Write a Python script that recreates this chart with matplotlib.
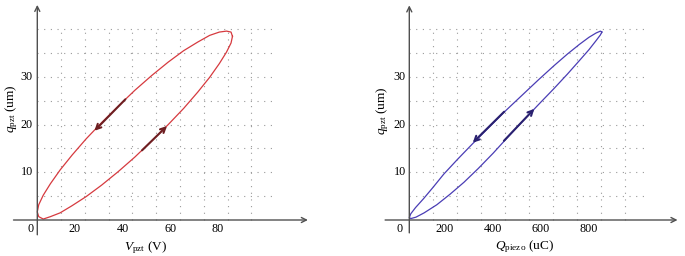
import numpy as np
import matplotlib
matplotlib.use("Agg")
import matplotlib.pyplot as plt
from matplotlib.transforms import offset_copy

plt.rcParams['font.family'] = ['Liberation Serif', 'DejaVu Serif']
plt.rcParams['mathtext.fontset'] = 'custom'
plt.rcParams['mathtext.rm'] = 'Liberation Serif'
plt.rcParams['mathtext.it'] = 'Liberation Serif:italic'

# ---------------- data ----------------
# Left: displacement q_pzt (um) versus voltage V_pzt (V)
left_v = [82.0, 81.4, 79.5, 76.5, 72.4, 67.4, 61.5, 55.0, 48.1, 41.0, 33.9, 27.0,
          20.5, 14.6, 9.6, 5.5, 2.5, 0.6, 0.0, 0.6, 2.5, 5.5, 9.6, 14.6,
          20.5, 27.0, 33.9, 41.0, 48.1, 55.0, 61.5, 67.4, 72.4, 76.5, 79.5, 81.4]
left_q = [38.5, 39.4, 39.6, 39.4, 38.7, 37.3, 35.5, 33.1, 30.3, 27.2, 23.8, 20.4,
          17.0, 13.6, 10.5, 7.6, 5.2, 3.2, 1.7, 0.7, 0.2, 0.7, 1.5, 3.0,
          4.9, 7.3, 10.1, 13.2, 16.6, 20.0, 23.4, 26.8, 29.9, 32.8, 35.2, 37.1]
left_arrow_down = [(37.0, 25.3), (24.0, 18.7)]
left_arrow_up = [(44.0, 14.6), (54.5, 19.7)]

# Right: displacement q_pzt (um) versus charge Q_piezo (uC)
right_Q = [804.0, 797.9, 779.8, 750.1, 709.9, 660.4, 603.0, 539.5, 471.8, 402.0, 332.2, 264.5,
           201.0, 143.6, 100.0, 60.0, 26.0, 6.1, 0.0, 6.5, 28.0, 62.0, 115.0, 170.0,
           228.0, 288.0, 350.0, 410.0, 475.0, 539.5, 603.0, 660.4, 709.9, 750.1, 779.8, 797.9]
right_q = [39.4, 39.6, 39.2, 38.3, 36.8, 34.8, 32.3, 29.4, 26.2, 22.9, 19.4, 16.0,
           12.7, 9.6, 6.9, 4.5, 2.6, 1.3, 0.5, 0.3, 0.6, 1.5, 3.2, 5.4,
           7.9, 10.8, 14.0, 17.3, 20.8, 24.2, 27.5, 30.6, 33.4, 35.7, 37.6, 38.8]
right_arrow_down = [(396.0, 22.7), (265.0, 16.2)]
right_arrow_up = [(395.0, 16.6), (522.0, 23.3)]

left_xticks = [20, 40, 60, 80]
right_xticks = [200, 400, 600, 800]
yticks = [10, 20, 30]
left_xgrid = [10, 20, 30, 40, 50, 60, 70, 80, 90]
right_xgrid = [100, 200, 300, 400, 500, 600, 700, 800, 900]
ygrid = [5, 10, 15, 20, 25, 30, 35, 40]

# ---------------- figure ----------------
W, H, DPI = 685, 256, 100
fig = plt.figure(figsize=(W / DPI, H / DPI), dpi=DPI)

YLIM = (-5.0, 46.0)
Y0_PX, Y_SCALE = 220.0, 4.77   # pixel row of y=0, pixels per unit


def make_axes(x0_px, xscale, xlim):
    left_px = x0_px + xscale * xlim[0]
    right_px = x0_px + xscale * xlim[1]
    bot_px = Y0_PX - Y_SCALE * YLIM[0]
    top_px = Y0_PX - Y_SCALE * YLIM[1]
    ax = fig.add_axes([left_px / W, 1 - bot_px / H,
                       (right_px - left_px) / W, (bot_px - top_px) / H])
    ax.set_xlim(*xlim)
    ax.set_ylim(*YLIM)
    ax.axis('off')
    return ax


def decorate(ax, xgrid, xmax, xaxis_ext, yaxis_ext, xticks, xoff, zoff, yoff):
    gcol = '#9a9a9a'
    ls = (0, (1, 5))
    ax.vlines(xgrid, 0, 40, colors=gcol, linestyles=[ls], lw=0.8)
    ax.hlines(ygrid, 0, xmax, colors=gcol, linestyles=[ls], lw=0.8)
    acol = '#505050'
    ax.annotate('', xy=(xaxis_ext[1], 0), xytext=(xaxis_ext[0], 0),
                arrowprops=dict(arrowstyle='->', color=acol, lw=1.0,
                                shrinkA=0, shrinkB=0, mutation_scale=9))
    ax.annotate('', xy=(0, yaxis_ext[1]), xytext=(0, yaxis_ext[0]),
                arrowprops=dict(arrowstyle='->', color=acol, lw=1.0,
                                shrinkA=0, shrinkB=0, mutation_scale=9))
    tr = offset_copy(ax.transData, fig=fig, x=xoff, y=-9.3, units='dots')
    for t in xticks:
        ax.text(t, 0, str(t), transform=tr, ha='center', va='center', fontsize=8.7)
    tr0 = offset_copy(ax.transData, fig=fig, x=zoff, y=-9.3, units='dots')
    ax.text(0, 0, '0', transform=tr0, ha='center', va='center', fontsize=8.7)
    try_ = offset_copy(ax.transData, fig=fig, x=yoff, y=0, units='dots')
    for t in yticks:
        ax.text(0, t, str(t), transform=try_, ha='right', va='center', fontsize=8.7)


# left panel
axL = make_axes(37.3, 2.38, (-12.0, 118.0))
decorate(axL, left_xgrid, 100, (-10, 113.7), (-3.1, 45.1), left_xticks, -10, -6.5, -4.6)
axL.plot(np.r_[left_v, left_v[:1]], np.r_[left_q, left_q[:1]], color='#d63a3f', lw=0.9)
for a in (left_arrow_down, left_arrow_up):
    axL.annotate('', xy=a[1], xytext=a[0],
                 arrowprops=dict(arrowstyle='->', color='#6e1f22', lw=1.5,
                                 shrinkA=0, shrinkB=0, mutation_scale=9))

# right panel
axR = make_axes(409.3, 0.2395, (-120.0, 1140.0))
decorate(axR, right_xgrid, 1000, (-101, 1120), (-2.7, 45.0), right_xticks, -12.5, -10, -3.5)
axR.plot(np.r_[right_Q, right_Q[:1]], np.r_[right_q, right_q[:1]], color='#4a3db5', lw=0.9)
for a in (right_arrow_down, right_arrow_up):
    axR.annotate('', xy=a[1], xytext=a[0],
                 arrowprops=dict(arrowstyle='->', color='#2a2170', lw=1.5,
                                 shrinkA=0, shrinkB=0, mutation_scale=9))

# axis labels
fig.text(145.5 / W, 1 - 248 / H, r'$V_{\mathrm{pzt}}$ (V)', ha='center', va='center', fontsize=9.5)
fig.text(11.7 / W, 1 - 109 / H, r'$q_{\mathrm{pzt}}$ (um)', ha='center', va='center',
         rotation=90, fontsize=9.5)
fig.text(525 / W, 1 - 247 / H, r'$Q_{\mathrm{piezo}}$ (uC)', ha='center', va='center', fontsize=9.5)
fig.text(383 / W, 1 - 111 / H, r'$q_{\mathrm{pzt}}$ (um)', ha='center', va='center',
         rotation=90, fontsize=9.5)

fig.savefig('out.png', dpi=DPI)
